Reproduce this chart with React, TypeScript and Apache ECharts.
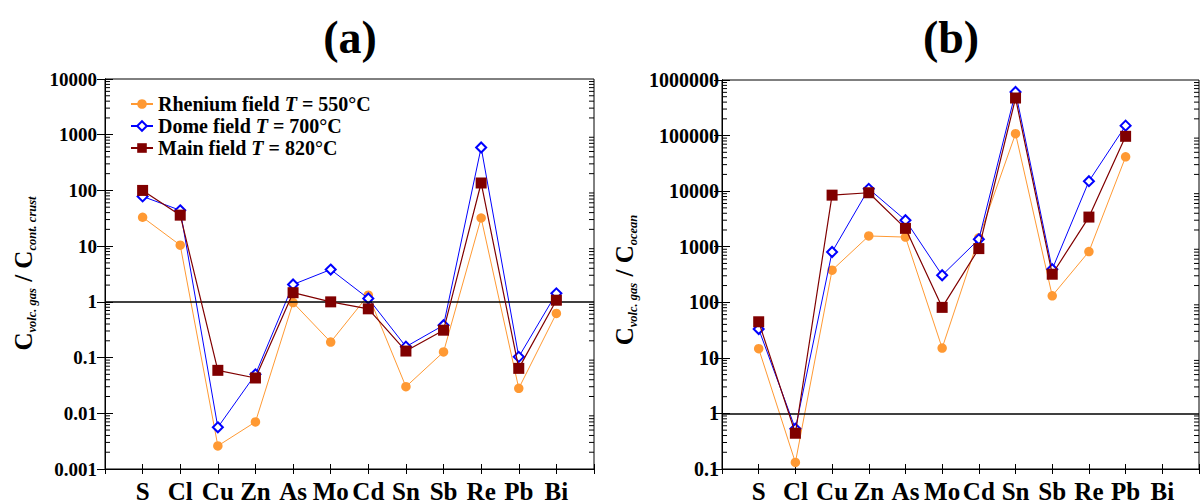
import React, { useEffect, useRef } from 'react';
import * as echarts from 'echarts';

const elements = ['S', 'Cl', 'Cu', 'Zn', 'As', 'Mo', 'Cd', 'Sn', 'Sb', 'Re', 'Pb', 'Bi'];
const seriesNames = ['Rhenium field', 'Dome field', 'Main field'];
const temperatures = [550, 700, 820];

// Panel (a): C volc. gas / C cont. crust
const crustRhenium = [33, 10.4, 0.0026, 0.007, 0.97, 0.19, 1.32, 0.03, 0.126, 32, 0.028, 0.62];
const crustDome = [78, 44, 0.0056, 0.05, 2.05, 3.8, 1.15, 0.157, 0.38, 590, 0.103, 1.42];
const crustMain = [100, 36, 0.059, 0.043, 1.46, 1.0, 0.75, 0.131, 0.31, 136, 0.064, 1.07];

// Panel (b): C volc. gas / C ocean
const oceanRhenium = [14.6, 0.131, 378, 1560, 1490, 15, 1450, 108000, 131, 817, 41400, null];
const oceanDome = [33, 0.53, 804, 11000, 3000, 307, 1360, 608000, 393, 15100, 151000, null];
const oceanMain = [44.6, 0.44, 8470, 9360, 2140, 81, 925, 474000, 320, 3415, 97000, null];

const crustTicks = ['0.001', '0.01', '0.1', '1', '10', '100', '1000', '10000'];
const oceanTicks = ['0.1', '1', '10', '100', '1000', '10000', '100000', '1000000'];

const FONT = 'Liberation Serif';
const ORANGE = '#FF9933';
const BLUE = '#0000FF';
const MAROON = '#800000';

function minorValues(min: number, max: number): number[] {
  const out: number[] = [];
  for (let e = Math.round(Math.log10(min)); e < Math.round(Math.log10(max)); e++) {
    for (let m = 2; m <= 9; m++) out.push(m * Math.pow(10, e));
  }
  return out;
}

function tickFormatter(ticks: string[]) {
  return (v: number) => {
    const t = ticks.find((s) => Math.abs(Math.log10(Number(s)) - Math.log10(v)) < 1e-6);
    return t ?? '';
  };
}

function xAxesFor(gridIndex: number) {
  return [
    {
      type: 'value', gridIndex, min: 0, max: 13, interval: 1, position: 'bottom',
      axisLine: { show: true, lineStyle: { color: '#000', width: 1 } },
      axisTick: { show: true, inside: false, length: 5, lineStyle: { color: '#000' } },
      axisLabel: {
        formatter: (v: number) => elements[v - 1] ?? '',
        fontFamily: FONT, fontWeight: 'bold', fontSize: 25, color: '#000', margin: 10,
      },
      splitLine: { show: false },
    },
    {
      type: 'value', gridIndex, min: 0, max: 13, interval: 1, position: 'bottom',
      axisLine: { show: false },
      axisTick: { show: true, inside: true, length: 5, lineStyle: { color: '#000' } },
      axisLabel: { show: false },
      splitLine: { show: false },
    },
  ];
}

function yAxesFor(gridIndex: number, ticks: string[], margin: number, fontSize: number) {
  const min = Number(ticks[0]);
  const max = Number(ticks[ticks.length - 1]);
  return [
    {
      type: 'log', logBase: 10, gridIndex, min, max, splitNumber: ticks.length - 1, position: 'left',
      axisLine: { show: true, lineStyle: { color: '#000', width: 1 } },
      axisTick: { show: true, inside: true, length: 8, lineStyle: { color: '#000' } },
      axisLabel: {
        formatter: tickFormatter(ticks), fontFamily: FONT, fontWeight: 'bold',
        fontSize, color: '#000', margin,
      },
      splitLine: { show: false },
    },
    {
      type: 'log', logBase: 10, gridIndex, min, max, splitNumber: ticks.length - 1, position: 'right',
      axisLine: { show: true, lineStyle: { color: '#000', width: 1 } },
      axisTick: { show: true, inside: true, length: 8, lineStyle: { color: '#000' } },
      axisLabel: { show: false },
      splitLine: { show: false },
    },
  ];
}

function minorTickSeries(xAxisIndex: number, yAxisIndex: number, ticks: string[]) {
  const min = Number(ticks[0]);
  const max = Number(ticks[ticks.length - 1]);
  return {
    type: 'custom', xAxisIndex, yAxisIndex, silent: true, clip: false, z: 5,
    data: minorValues(min, max).map((v) => [0, v]),
    renderItem: (_p: any, api: any) => {
      const v = api.value(1);
      const l = api.coord([0, v]);
      const r = api.coord([13, v]);
      return {
        type: 'group',
        children: [
          { type: 'line', shape: { x1: l[0], y1: l[1], x2: l[0] + 5, y2: l[1] }, style: { stroke: '#000', lineWidth: 1 } },
          { type: 'line', shape: { x1: r[0] - 5, y1: r[1], x2: r[0], y2: r[1] }, style: { stroke: '#000', lineWidth: 1 } },
        ],
      };
    },
  };
}

function lineSeries(name: string, values: (number | null)[], xAxisIndex: number, yAxisIndex: number, kind: number, withRef: boolean) {
  const base: any = {
    name, type: 'line', xAxisIndex, yAxisIndex,
    data: values.map((v, i) => [i + 1, v]),
    z: 3 + kind,
  };
  if (kind === 0) {
    base.symbol = 'circle'; base.symbolSize = 9.5;
    base.itemStyle = { color: ORANGE };
    base.lineStyle = { color: ORANGE, width: 1 };
  } else if (kind === 1) {
    base.symbol = 'emptyDiamond'; base.symbolSize = 10;
    base.itemStyle = { color: BLUE, borderWidth: 1.5 };
    base.lineStyle = { color: BLUE, width: 1 };
  } else {
    base.symbol = 'rect'; base.symbolSize = 11;
    base.itemStyle = { color: MAROON };
    base.lineStyle = { color: MAROON, width: 1.2 };
  }
  if (withRef) {
    base.markLine = {
      silent: true, symbol: ['none', 'none'], label: { show: false },
      lineStyle: { color: '#000', width: 1.5, type: 'solid' },
      data: [{ yAxis: 1 }],
    };
  }
  return base;
}

const subRich = { fontFamily: FONT, fontWeight: 'bold', fontStyle: 'italic', fontSize: 12.5, lineHeight: 14, fill: '#000', verticalAlign: 'bottom' };
const bigRich = { fontFamily: FONT, fontWeight: 'bold', fontSize: 25, lineHeight: 30, fill: '#000', verticalAlign: 'middle' };

export default function App() {
  const ref = useRef<HTMLDivElement>(null);
  useEffect(() => {
    if (!ref.current) return;
    const chart = echarts.init(ref.current, null, { renderer: 'svg' });
    const option: any = {
      animation: false,
      backgroundColor: '#fff',
      grid: [
        { left: 105, top: 79, width: 489, height: 391, show: true, borderColor: '#000', borderWidth: 1, backgroundColor: 'transparent' },
        { left: 722, top: 80, width: 489, height: 390, show: true, borderColor: '#000', borderWidth: 1, backgroundColor: 'transparent' },
      ],
      xAxis: [...xAxesFor(0), ...xAxesFor(1)],
      yAxis: [...yAxesFor(0, crustTicks, 8, 19), ...yAxesFor(1, oceanTicks, 3, 20)],
      legend: {
        left: 125, top: 89, orient: 'vertical', itemWidth: 22, itemHeight: 12, itemGap: 2,
        selectedMode: false, data: seriesNames,
        formatter: (name: string) => {
          const i = seriesNames.indexOf(name);
          return `{b|${name} }{i|T}{b| = ${temperatures[i]}°C}`;
        },
        textStyle: {
          rich: {
            b: { fontFamily: FONT, fontWeight: 'bold', fontSize: 20, color: '#000', lineHeight: 20 },
            i: { fontFamily: FONT, fontWeight: 'bold', fontStyle: 'italic', fontSize: 20, color: '#000', lineHeight: 20 },
          },
        },
      },
      graphic: [
        { type: 'text', x: 350, y: 37, style: { text: '(a)', fontFamily: FONT, fontWeight: 'bold', fontSize: 46, fill: '#000', align: 'center', verticalAlign: 'middle' } },
        { type: 'text', x: 951, y: 37, style: { text: '(b)', fontFamily: FONT, fontWeight: 'bold', fontSize: 46, fill: '#000', align: 'center', verticalAlign: 'middle' } },
        {
          type: 'text', x: 23, y: 273.5, rotation: Math.PI / 2,
          style: { text: '{c|C}{s|volc. gas}{c| / C}{s|cont. crust}', rich: { c: bigRich, s: subRich }, align: 'center', verticalAlign: 'middle' },
        },
        {
          type: 'text', x: 624, y: 280, rotation: Math.PI / 2,
          style: { text: '{c|C}{s|volc. gas}{c| / C}{s|ocean}', rich: { c: bigRich, s: subRich }, align: 'center', verticalAlign: 'middle' },
        },
      ],
      series: [
        lineSeries(seriesNames[0], crustRhenium, 0, 0, 0, false),
        lineSeries(seriesNames[1], crustDome, 0, 0, 1, false),
        lineSeries(seriesNames[2], crustMain, 0, 0, 2, true),
        lineSeries(seriesNames[0], oceanRhenium, 2, 2, 0, false),
        lineSeries(seriesNames[1], oceanDome, 2, 2, 1, false),
        lineSeries(seriesNames[2], oceanMain, 2, 2, 2, true),
        minorTickSeries(0, 0, crustTicks),
        minorTickSeries(2, 2, oceanTicks),
      ],
    };
    chart.setOption(option);
    return () => chart.dispose();
  }, []);
  return (
    <div
      ref={ref}
      style={{ position: 'absolute', left: 0, top: 0, width: 1202, height: 504, overflow: 'hidden' }}
    />
  );
}
